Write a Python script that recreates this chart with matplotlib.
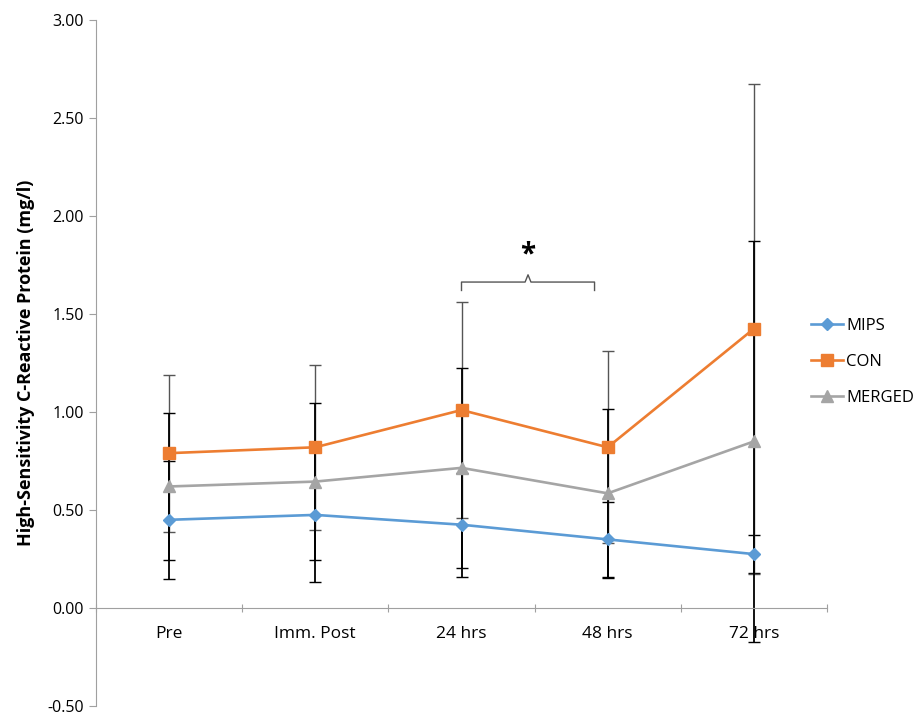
import matplotlib
matplotlib.use("Agg")
import matplotlib.pyplot as plt
import numpy as np

plt.rcParams['font.family'] = ['Open Sans', 'DejaVu Sans']

categories = ["Pre", "Imm. Post", "24 hrs", "48 hrs", "72 hrs"]
mips = [0.45, 0.475, 0.425, 0.35, 0.275]
mips_err = [0.30, 0.34, 0.265, 0.19, 0.095]
con = [0.79, 0.82, 1.01, 0.82, 1.425]
con_err = [0.40, 0.42, 0.55, 0.49, 1.25]
merged = [0.62, 0.645, 0.715, 0.585, 0.85]
merged_err = [0.375, 0.40, 0.51, 0.43, 1.025]
y_ticks = [-0.5, 0.0, 0.5, 1.0, 1.5, 2.0, 2.5, 3.0]

fig = plt.figure(figsize=(9.22, 7.16), dpi=100)
ax = fig.add_axes([96/922, 1-706/716, (827-96)/922, (706-20)/716])

x = np.arange(len(categories)) + 0.5

series = [
    ("MIPS", mips, mips_err, "#5B9BD5", "D", 6, "black", 1.3),
    ("CON", con, con_err, "#ED7D31", "s", 8, "#555555", 1.0),
    ("MERGED", merged, merged_err, "#A5A5A5", "^", 8, "black", 1.3),
]

for name, vals, err, col, mk, ms, ecol, elw in series:
    ax.errorbar(x, vals, yerr=err, fmt='none', ecolor=ecol, elinewidth=elw,
                capsize=4, capthick=1.0, zorder=2)

for name, vals, err, col, mk, ms, ecol, elw in series:
    ax.plot(x, vals, color=col, marker=mk, markersize=ms, linewidth=1.9,
            label=name, zorder=3)

ax.set_xlim(0, len(categories))
ax.set_ylim(-0.5, 3.0)
ax.set_yticks(y_ticks)
ax.set_yticklabels([f"{v:.2f}" for v in y_ticks])

# category ticks sit between categories; labels centered on each
ax.set_xticks(np.arange(len(categories) + 1))
ax.set_xticklabels([])
ax.set_xticks(x, minor=True)
ax.set_xticklabels(categories, minor=True)
ax.tick_params(axis='x', which='minor', length=0, pad=13, labelsize=12.5)
ax.tick_params(axis='x', which='major', length=6, color='#A0A0A0', direction='inout')
ax.tick_params(axis='y', length=5, color='#A0A0A0', direction='out', labelsize=11.5)

for s in ['top', 'right']:
    ax.spines[s].set_visible(False)
ax.spines['bottom'].set_position(('data', 0))
ax.spines['bottom'].set_color('#A0A0A0')
ax.spines['left'].set_color('#A0A0A0')

ax.set_ylabel("High-Sensitivity C-Reactive Protein (mg/l)", fontsize=13,
              fontweight='bold', labelpad=9)

# significance bracket between 24 hrs and 48 hrs
bx0, bx1 = 2.5, 3.41
by, bdrop, btip = 1.663, 1.62, 1.70
bm = (bx0 + bx1) / 2
ax.plot([bx0, bx0, bm - 0.02, bm, bm + 0.02, bx1, bx1],
        [bdrop, by, by, btip, by, by, bdrop],
        color='#555555', linewidth=1.0, zorder=2)
ax.text(bm, 1.80, "*", ha='center', va='center', fontsize=20, fontweight='bold')

leg = ax.legend(loc='upper left', bbox_to_anchor=(796/922, 1-303/716),
                bbox_transform=fig.transFigure, frameon=False, fontsize=12,
                handlelength=1.9, labelspacing=1.2, handletextpad=0.2)

fig.savefig("out.png", dpi=100)
